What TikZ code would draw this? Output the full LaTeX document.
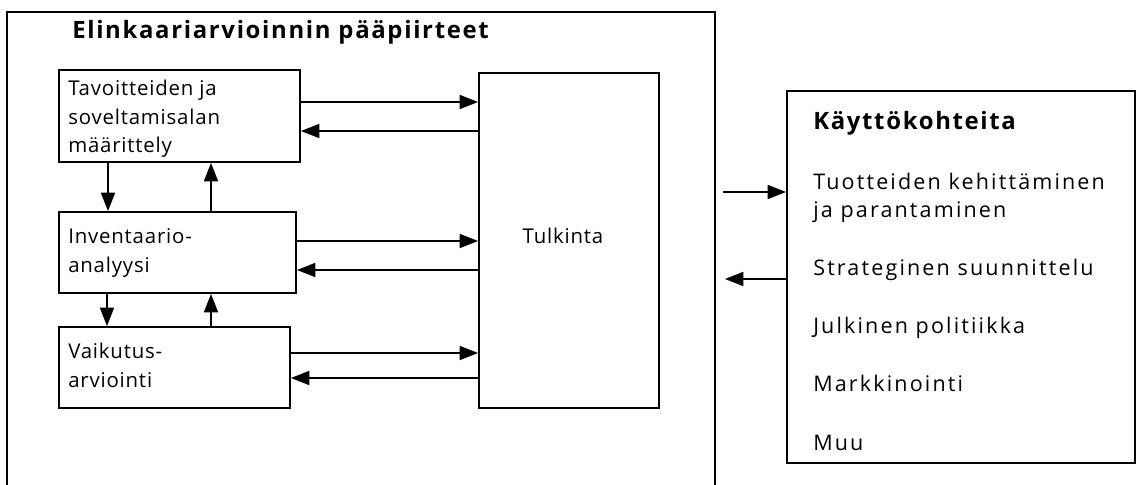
\documentclass[tikz,border=0pt]{standalone}
\usepackage{fontspec}
\setmainfont{Open Sans}[Ligatures=NoCommon]
\usetikzlibrary{arrows.meta, positioning}

\begin{document}
\begin{tikzpicture}[
    x=0.025cm, y=-0.025cm,
    >={Triangle[length=13pt, width=10pt]},
    arr/.style={->, line width=1.1pt},
    box/.style={draw, line width=1.4pt, inner sep=0pt},
    txt/.style={font=\fontsize{14.5}{20.3}\selectfont\addfontfeatures{LetterSpace=4}, align=left, inner sep=0pt, anchor=base west},
    usetxt/.style={txt, font=\fontsize{15.3}{20}\selectfont\addfontfeatures{LetterSpace=10}},
    head/.style={font=\fontsize{17}{20}\selectfont\bfseries\addfontfeatures{LetterSpace=7}, inner sep=0pt, anchor=base west},
]
\useasboundingbox (0,0) rectangle (1138,485);
% --- outer frame (runs off the page at the bottom) ---
\draw[line width=1.4pt] (7,485) |- (715,12) -- (715,485);
\node[head] (title) at (72,39) {Elinkaariarvioinnin pääpiirteet};
% --- phases (text anchored on its last line) ---
\node[box, minimum width=6.025cm, minimum height=2.3cm] (goal) at (179.5,116) {};
\node[txt] (goaltxt) at (68,153) {Tavoitteiden ja\\soveltamisalan\\määrittely};
\node[box, minimum width=5.925cm, minimum height=2.025cm] (inv) at (177.5,252.5) {};
\node[txt] (invtxt) at (68,272) {Inventaario-\\analyysi};
\node[box, minimum width=5.775cm, minimum height=2.025cm] (imp) at (174.5,367.5) {};
\node[txt] (imptxt) at (68,387) {Vaikutus-\\arviointi};
% --- interpretation ---
\node[box, minimum width=4.5cm, minimum height=8.375cm] (interp) at (569,240.5) {};
\node[txt, anchor=base] (interptxt) at (563,243) {Tulkinta};
% arrows between phases and interpretation
\foreach \n/\ya/\yb in {goal/102/131, inv/241/270, imp/353/378} {
    \draw[arr] (\n.east |- 0,\ya) -- (interp.west |- 0,\ya);
    \draw[arr] (interp.west |- 0,\yb) -- (\n.east |- 0,\yb);
}
% arrows between phases
\draw[arr] (goal.south -| 108,0) -- (inv.north -| 108,0);
\draw[arr] (inv.north -| 211,0) -- (goal.south -| 211,0);
\draw[arr] (inv.south -| 107,0) -- (imp.north -| 107,0);
\draw[arr] (imp.north -| 211,0) -- (inv.south -| 211,0);
% --- applications ---
\node[box, minimum width=8.7cm, minimum height=9.3cm] (use) at (961,277) {};
\node[head] (usehead) at (813,130) {Käyttökohteita};
\node[usetxt] (uselist) at (813,450) {Tuotteiden kehittäminen\\ja parantaminen\\[21.3pt]
    Strateginen suunnittelu\\[21.3pt]
    Julkinen politiikka\\[21.3pt]
    Markkinointi\\[21.3pt]
    Muu};
\coordinate (out1) at (723,192);
\coordinate (in1) at (725,279);
\draw[arr] (out1) -- (use.west |- out1);
\draw[arr] (use.west |- in1) -- (in1);
\end{tikzpicture}
\end{document}
